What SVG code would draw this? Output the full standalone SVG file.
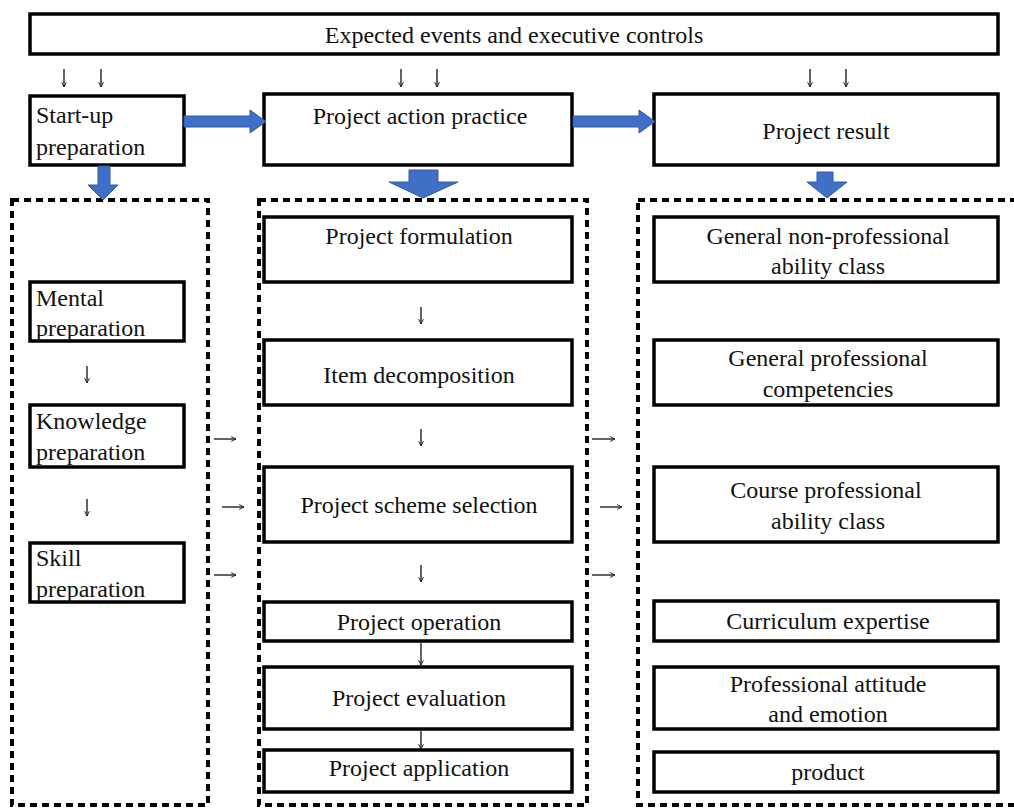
<svg xmlns="http://www.w3.org/2000/svg" width="1014" height="809" viewBox="0 0 1014 809">
<defs>
<style>
.b{fill:#fff;stroke:#000;stroke-width:3.5}
.d{fill:none;stroke:#000;stroke-width:4;stroke-dasharray:7 5}
.t{font-family:"Liberation Serif","Times New Roman",serif;font-size:24px;fill:#111}
.c{text-anchor:middle}
.a{fill:none;stroke:#222;stroke-width:1.4;marker-end:url(#h)}
.blue{fill:#3f6fc6;stroke:#2f5aa8;stroke-width:1}
</style>
<marker id="h" viewBox="0 0 10 10" refX="9" refY="5" markerWidth="6" markerHeight="6" markerUnits="userSpaceOnUse" orient="auto">
<path d="M1,1 L9,5 L1,9" fill="none" stroke="#222" stroke-width="1.6"/>
</marker>
</defs>
<rect width="1014" height="809" fill="#fff"/>

<g id="containers">
<rect class="d" x="12" y="200" width="196" height="605"/>
<rect class="d" x="259" y="200" width="328" height="605"/>
<rect class="d" x="638" y="200" width="390" height="605"/>
</g>

<g id="top"><rect class="b" x="30" y="14" width="968" height="40"/><text class="t c" x="514" y="43">Expected events and executive controls</text></g>

<g id="startup"><rect class="b" x="30" y="96" width="154" height="69"/><text class="t" x="36" y="123">Start-up</text><text class="t" x="36" y="155">preparation</text></g>
<g id="action"><rect class="b" x="264" y="94" width="308" height="71"/><text class="t c" x="420" y="124">Project action practice</text></g>
<g id="result"><rect class="b" x="654" y="94" width="344" height="71"/><text class="t c" x="826" y="139">Project result</text></g>

<g id="mental"><rect class="b" x="30" y="282" width="154" height="59"/><text class="t" x="36" y="306">Mental</text><text class="t" x="36" y="336">preparation</text></g>
<g id="knowledge"><rect class="b" x="30" y="405" width="154" height="62"/><text class="t" x="36" y="429">Knowledge</text><text class="t" x="36" y="460">preparation</text></g>
<g id="skill"><rect class="b" x="30" y="543" width="154" height="59"/><text class="t" x="36" y="566">Skill</text><text class="t" x="36" y="597">preparation</text></g>

<g id="formulation"><rect class="b" x="264" y="217" width="308" height="65"/><text class="t c" x="419" y="244">Project formulation</text></g>
<g id="decomposition"><rect class="b" x="264" y="340" width="308" height="65"/><text class="t c" x="419" y="383">Item decomposition</text></g>
<g id="scheme"><rect class="b" x="264" y="467" width="308" height="75"/><text class="t c" x="419" y="513">Project scheme selection</text></g>
<g id="operation"><rect class="b" x="264" y="602" width="308" height="39"/><text class="t c" x="419" y="630">Project operation</text></g>
<g id="evaluation"><rect class="b" x="264" y="667" width="308" height="62"/><text class="t c" x="419" y="706">Project evaluation</text></g>
<g id="application"><rect class="b" x="264" y="750" width="308" height="42"/><text class="t c" x="419" y="776">Project application</text></g>

<g id="nonprof"><rect class="b" x="654" y="217" width="344" height="65"/><text class="t c" x="828" y="244">General non-professional</text><text class="t c" x="828" y="274">ability class</text></g>
<g id="genprof"><rect class="b" x="654" y="340" width="344" height="65"/><text class="t c" x="828" y="366">General professional</text><text class="t c" x="828" y="397">competencies</text></g>
<g id="course"><rect class="b" x="654" y="467" width="344" height="75"/><text class="t c" x="826" y="498">Course professional</text><text class="t c" x="828" y="529">ability class</text></g>
<g id="curriculum"><rect class="b" x="654" y="601" width="344" height="40"/><text class="t c" x="828" y="629">Curriculum expertise</text></g>
<g id="attitude"><rect class="b" x="654" y="667" width="344" height="62"/><text class="t c" x="828" y="692">Professional attitude</text><text class="t c" x="828" y="722">and emotion</text></g>
<g id="product"><rect class="b" x="654" y="752" width="344" height="40"/><text class="t c" x="828" y="780">product</text></g>

<g id="connectors">
<path class="blue" d="M184,116 H250 V110 L266,121.5 L250,133 V127 H184 Z"/>
<path class="blue" d="M573,116 H639 V110 L655,121.5 L639,133 V127 H573 Z"/>
<path class="blue" d="M98,166 H110 V185 H118 L103,200 L88,185 H98 Z"/>
<path class="blue" d="M409,170 H438 V182 H458 L423,198 L389,182 H409 Z"/>
<path class="blue" d="M817,172 H833 V182 H847 L827,198 L807,182 H817 Z"/>
<path class="a" d="M64,69 V87"/><path class="a" d="M101,69 V87"/>
<path class="a" d="M401,69 V87"/><path class="a" d="M437,69 V87"/>
<path class="a" d="M810,69 V87"/><path class="a" d="M846,69 V87"/>
<path class="a" d="M87,366 V383"/><path class="a" d="M87,499 V516"/>
<path class="a" d="M421,307 V324"/><path class="a" d="M421,429 V446"/><path class="a" d="M421,565 V582"/>
<path class="a" d="M421,643 V665"/><path class="a" d="M421,731 V749"/>
<path class="a" d="M214,439 H236"/><path class="a" d="M222,507 H244"/><path class="a" d="M214,575 H236"/>
<path class="a" d="M592,439 H615"/><path class="a" d="M600,507 H622"/><path class="a" d="M592,575 H615"/>
</g>
</svg>
